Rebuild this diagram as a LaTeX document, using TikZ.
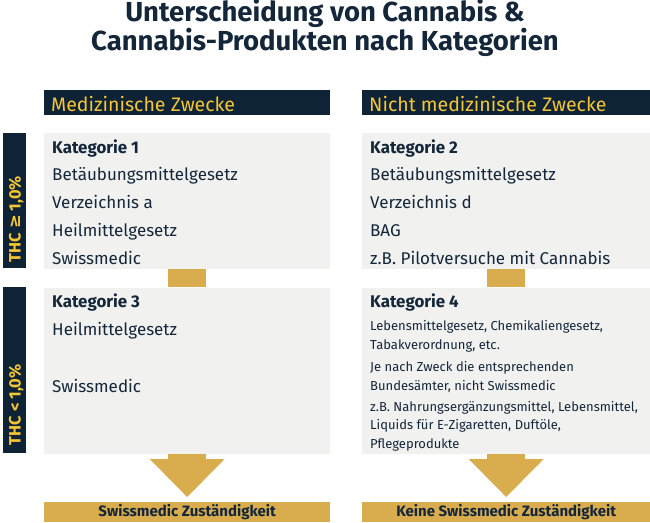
\documentclass[tikz,border=0pt]{standalone}
\usepackage{fontspec}
\setmainfont{Fira Sans}
\newfontfamily\symfont{DejaVu Sans}
\usetikzlibrary{positioning,arrows.meta,calc}
\definecolor{navy}{HTML}{0E2436}
\definecolor{goldbar}{HTML}{D9AD4E}
\definecolor{goldtext}{HTML}{F5C533}
\definecolor{boxgray}{HTML}{F1F1F0}
\definecolor{inktext}{HTML}{13263A}
\begin{document}
\begin{tikzpicture}[x=1pt,y=-1pt,
    titletext/.style={font=\fontsize{27.5}{30}\selectfont\bfseries,text=inktext,anchor=base,inner sep=0pt},
    hdrbar/.style={fill=navy,anchor=north west,minimum height=25pt,inner sep=0pt},
    hdrtext/.style={font=\fontsize{19.5}{22}\selectfont,text=goldtext,anchor=base west,inner sep=0pt},
    thcbar/.style={fill=navy,anchor=north west,minimum width=23pt,inner sep=0pt},
    thctext/.style={font=\fontsize{16.5}{18}\selectfont\bfseries,text=goldtext,rotate=90,anchor=base west,inner sep=0pt},
    catbox/.style={fill=boxgray,anchor=north west,inner sep=0pt},
    cathead/.style={font=\fontsize{16.9}{19}\selectfont\bfseries,text=inktext,anchor=base west,inner sep=0pt},
    linetext/.style={font=\fontsize{17}{19}\selectfont,text=inktext,anchor=base west,inner sep=0pt},
    smalltext/.style={font=\fontsize{13}{16}\selectfont,text=inktext,anchor=base west,inner sep=0pt},
    resbar/.style={fill=goldbar,anchor=north west,minimum height=20pt,inner sep=0pt,
      font=\fontsize{15}{18}\selectfont\bfseries,text=inktext},
    goldlink/.style={draw=goldbar,line width=38pt},
    bigarrow/.style={draw=goldbar,line width=38pt,shorten >=5pt,
      -{Triangle[length=38pt,width=75pt,line width=0pt]}}]
    \useasboundingbox (0,0) rectangle (650,522);
    % title
    \node[titletext] (title1) at (325,21) {Unterscheidung von Cannabis \&};
    \node[titletext] (title2) at (325,50) {Cannabis-Produkten nach Kategorien};
    % column headers
    \node[hdrbar,minimum width=286pt] (hdrmed) at (44,90) {};
    \node[hdrbar,minimum width=288pt] (hdrnon) at (362,90) {};
    \node[hdrtext] at ($(hdrmed.south west)+(7,-4)$) {Medizinische Zwecke};
    \node[hdrtext] at ($(hdrnon.south west)+(7,-4)$) {Nicht medizinische Zwecke};
    % THC rows
    \node[thcbar,minimum height=135pt] (thchi) at (3,133) {};
    \node[thcbar,minimum height=166pt] (thclo) at (3,287) {};
    \node[thctext] (thchitxt) at ($(thchi.south)+(6,-6)$) {THC {\symfont\bfseries ≥} 1,0\%};
    \node[thctext] (thclotxt) at ($(thclo.south)+(6,-8)$) {THC < 1,0\%};
    % category boxes
    \node[catbox,minimum width=286pt,minimum height=136pt] (kat1) at (44,133) {};
    \node[catbox,minimum width=288pt,minimum height=136pt] (kat2) at (362,133) {};
    \node[catbox,minimum width=286pt,minimum height=166pt,below=18pt of kat1.south west,anchor=north west] (kat3) {};
    \node[catbox,minimum width=288pt,minimum height=166pt,below=18pt of kat2.south west,anchor=north west] (kat4) {};
    % category texts
    \node[cathead] (kat1h) at ($(kat1.north west)+(8,20)$) {Kategorie 1};
    \foreach \txt [count=\i] in {Betäubungsmittelgesetz,Verzeichnis a,Heilmittelgesetz,Swissmedic}
        \node[linetext] (kat1l\i) at ($(kat1.north west)+(8,20+27.8*\i)$) {\txt};
    \node[cathead] (kat2h) at ($(kat2.north west)+(8,20)$) {Kategorie 2};
    \foreach \txt [count=\i] in {Betäubungsmittelgesetz,Verzeichnis d,BAG,z.B. Pilotversuche mit Cannabis}
        \node[linetext] (kat2l\i) at ($(kat2.north west)+(8,20+27.8*\i)$) {\txt};
    \node[cathead] (kat3h) at ($(kat3.north west)+(8,20)$) {Kategorie 3};
    \node[linetext] (kat3l1) at ($(kat3.north west)+(8,48)$) {Heilmittelgesetz};
    \node[linetext] (kat3l2) at ($(kat3.north west)+(8,105)$) {Swissmedic};
    \node[cathead] (kat4h) at ($(kat4.north west)+(8,20)$) {Kategorie 4};
    \foreach \yy/\txt [count=\i] in {43/{Lebensmittelgesetz, Chemikaliengesetz,},62/{Tabakverordnung, etc.},
        84/{Je nach Zweck die entsprechenden},103/{Bundesämter, nicht Swissmedic},
        124/{z.B. Nahrungsergänzungsmittel, Lebensmittel,},142/{Liquids für E-Zigaretten, Duftöle,},161/{Pflegeprodukte}}
        \node[smalltext] (kat4l\i) at ($(kat4.north west)+(8,\yy)$) {\txt};
    % results
    \node[resbar,minimum width=286pt] (resmed) at (44,502) {Swissmedic Zuständigkeit};
    \node[resbar,minimum width=288pt] (resnon) at (362,502) {Keine Swissmedic Zuständigkeit};
    % links and arrows
    \draw[goldlink] (kat1.south) -- (kat3.north);
    \draw[goldlink] (kat2.south) -- (kat4.north);
    \draw[bigarrow] (kat3.south) -- (resmed.north);
    \draw[bigarrow] (kat4.south) -- (resnon.north);
\end{tikzpicture}
\end{document}
